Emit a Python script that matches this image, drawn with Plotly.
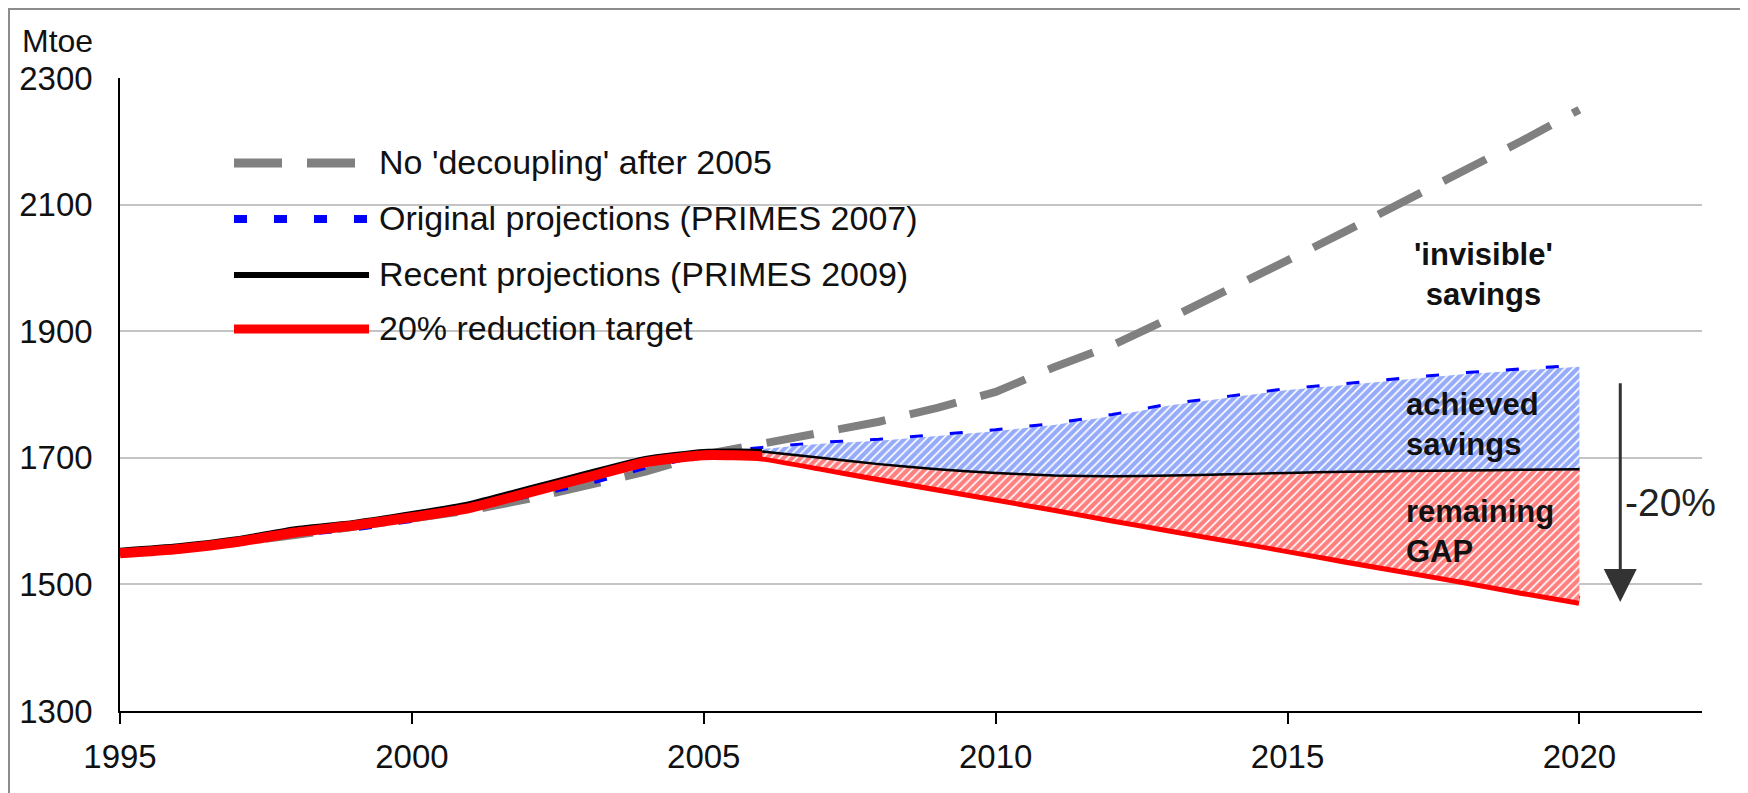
import plotly.graph_objects as go

# ---------------- data ----------------
years = list(range(1995, 2021))

no_decoupling = [1550, 1557, 1566, 1578, 1590, 1603, 1617, 1635, 1655, 1678, 1705,
                 1722, 1740, 1757, 1779, 1804, 1843, 1878, 1921, 1968, 2012,
                 2058, 2105, 2153, 2200, 2250]
primes_2007 = [1551, 1558, 1568, 1580, 1588, 1602, 1622, 1640, 1660, 1686, 1706,
               1714, 1722, 1727, 1734, 1742, 1752, 1766, 1783, 1795, 1807,
               1815, 1824, 1832, 1838, 1844]
primes_2009 = [1554, 1561, 1572, 1588, 1598, 1612, 1628, 1652, 1676, 1699, 1710,
               1710, 1700, 1690, 1682, 1676, 1672, 1671, 1672, 1674, 1676,
               1678, 1679, 1680, 1681, 1682]
target_20 = [1549, 1556, 1567, 1582, 1593, 1606, 1621, 1645, 1669, 1693, 1704,
             1702, 1686, 1669, 1653, 1637, 1621, 1604, 1588, 1572, 1556,
             1539, 1523, 1507, 1490, 1474]

fill_start = 2006  # hatched areas start here

series_names = ["No 'decoupling' after 2005",
                "Original projections (PRIMES 2007)",
                "Recent projections (PRIMES 2009)",
                "20% reduction target"]

x_ticks = [1995, 2000, 2005, 2010, 2015, 2020]
y_ticks = [1300, 1500, 1700, 1900, 2100, 2300]

# annotation anchors (data units)
lbl_invisible = (2018.36, 1990)
lbl_achieved = (2017.0, 1753)
lbl_gap = (2017.0, 1583)
lbl_pct = (2020.75, 1629)
arrow_x = 2020.7
arrow_top, arrow_tip = 1820, 1472

# ---------------- figure ----------------
FONT = "Liberation Sans, Arial, sans-serif"
OFF = 8  # page body margin of the exported html
W, H = 1748 - OFF, 793 - OFF
ML, MR, MT, MB = 120 - OFF, 46, 78 - OFF, 82
PW, PH = W - ML - MR, H - MT - MB


def px(xp):
    """page pixel x -> paper fraction"""
    return (xp - OFF - ML) / PW


def py(yp):
    """page pixel y -> paper fraction"""
    return (H - MB - (yp - OFF)) / PH


i0 = years.index(fill_start)
fy = years[i0:]

fig = go.Figure()

# lines (drawn first; the hatched areas partly cover them, as in the original)
fig.add_trace(go.Scatter(x=years, y=no_decoupling, mode="lines", name=series_names[0],
                         line=dict(color="#808080", width=8, dash="48px,25px"),
                         showlegend=False))
fig.add_trace(go.Scatter(x=years, y=primes_2007, mode="lines", name=series_names[1],
                         line=dict(color="#0000ff", width=6, dash="13px,27px"),
                         showlegend=False))
fig.add_trace(go.Scatter(x=years, y=primes_2009, mode="lines", name=series_names[2],
                         line=dict(color="#000000", width=5, shape="spline", smoothing=0.5),
                         showlegend=False))
fig.add_trace(go.Scatter(x=years, y=target_20, mode="lines", name=series_names[3],
                         line=dict(color="#ff0000", width=10, shape="spline", smoothing=0.5),
                         showlegend=False))

# red hatched area (between target and recent projections)
fig.add_trace(go.Scatter(x=fy, y=target_20[i0:], mode="lines", line=dict(width=0),
                         showlegend=False, hoverinfo="skip"))
fig.add_trace(go.Scatter(x=fy, y=primes_2009[i0:], mode="lines", line=dict(width=0),
                         fill="tonexty", fillcolor="rgba(0,0,0,0)",
                         fillpattern=dict(shape="/", fgcolor="#ff0000", bgcolor="white",
                                          size=6, solidity=0.72),
                         showlegend=False, hoverinfo="skip"))
# blue hatched area (between recent and original projections)
fig.add_trace(go.Scatter(x=fy, y=primes_2009[i0:], mode="lines", line=dict(width=0),
                         showlegend=False, hoverinfo="skip"))
fig.add_trace(go.Scatter(x=fy, y=primes_2007[i0:], mode="lines", line=dict(width=0),
                         fill="tonexty", fillcolor="rgba(0,0,0,0)",
                         fillpattern=dict(shape="/", fgcolor="#2b57f5", bgcolor="white",
                                          size=6, solidity=0.72),
                         showlegend=False, hoverinfo="skip"))
# thin black boundary between the two hatched areas
fig.add_trace(go.Scatter(x=fy, y=primes_2009[i0:], mode="lines",
                         line=dict(color="#000000", width=2.5, shape="spline", smoothing=0.5),
                         showlegend=False, hoverinfo="skip"))

shapes = []
annotations = []

# custom legend (samples + text), positioned in paper coordinates
leg_rows = [163, 219, 275, 329]
leg_styles = [dict(color="#808080", width=9, dash="48px,25px"),
              dict(color="#0000ff", width=8, dash="13px,27px"),
              dict(color="#000000", width=6),
              dict(color="#ff0000", width=9)]
for name, yrow, st in zip(series_names, leg_rows, leg_styles):
    shapes.append(dict(type="line", xref="paper", yref="paper",
                       x0=px(234), x1=px(369), y0=py(yrow), y1=py(yrow), line=st))
    annotations.append(dict(xref="paper", yref="paper", x=px(377), y=py(yrow - 1),
                            xanchor="left", yanchor="middle", showarrow=False,
                            text=name, font=dict(family=FONT, size=34, color="#111")))

# outer frame
shapes.append(dict(type="rect", xref="paper", yref="paper",
                   x0=px(9), x1=px(1742), y0=py(9), y1=py(800),
                   line=dict(color="#8c8c8c", width=2)))

# y axis title
annotations.append(dict(xref="paper", yref="paper", x=px(20), y=py(41),
                        xanchor="left", yanchor="middle", showarrow=False,
                        text="Mtoe", font=dict(family=FONT, size=32, color="#111")))

# region labels
annotations.append(dict(x=lbl_invisible[0], y=lbl_invisible[1], showarrow=False,
                        text="<b>'invisible'<br>savings</b>", align="center",
                        xanchor="center", yanchor="middle",
                        font=dict(family=FONT, size=31, color="#111")))
annotations.append(dict(x=lbl_achieved[0], y=lbl_achieved[1], showarrow=False,
                        text="<b>achieved<br>savings</b>", align="left",
                        xanchor="left", yanchor="middle",
                        font=dict(family=FONT, size=31, color="#111")))
annotations.append(dict(x=lbl_gap[0], y=lbl_gap[1], showarrow=False,
                        text="<b>remaining<br>GAP</b>", align="left",
                        xanchor="left", yanchor="middle",
                        font=dict(family=FONT, size=31, color="#111")))
annotations.append(dict(x=lbl_pct[0], y=lbl_pct[1], showarrow=False,
                        text="-20%", xanchor="left", yanchor="middle",
                        font=dict(family=FONT, size=39, color="#222")))
# -20% arrow
annotations.append(dict(x=arrow_x, y=arrow_tip, ax=arrow_x, ay=arrow_top,
                        xref="x", yref="y", axref="x", ayref="y", text="",
                        showarrow=True, arrowhead=2, arrowsize=2.2, arrowwidth=3,
                        arrowcolor="#333"))

fig.update_layout(
    width=W, height=H,
    margin=dict(l=ML, r=MR, t=MT, b=MB, autoexpand=False),
    paper_bgcolor="white", plot_bgcolor="white",
    font=dict(family=FONT, size=32, color="#111"),
    shapes=shapes, annotations=annotations,
    showlegend=False,
)
fig.update_xaxes(range=[1995, 2022.1], tickmode="array", tickvals=x_ticks,
                 ticktext=[str(v) for v in x_ticks], automargin=False,
                 showgrid=False, zeroline=False,
                 showline=True, linecolor="#000", linewidth=2,
                 ticks="outside", ticklen=11, tickwidth=1.5, tickcolor="#000",
                 ticklabelstandoff=4,
                 tickfont=dict(family=FONT, size=33, color="#111"))
fig.update_yaxes(range=[1300, 2300], tickmode="array", tickvals=y_ticks,
                 ticktext=[str(v) for v in y_ticks], automargin=False,
                 showgrid=True, gridcolor="#c4c4c4", gridwidth=2, zeroline=False,
                 showline=True, linecolor="#000", linewidth=1.5,
                 ticks="", ticklabelstandoff=19,
                 tickfont=dict(family=FONT, size=33, color="#111"))

fig.write_html("out.html")
